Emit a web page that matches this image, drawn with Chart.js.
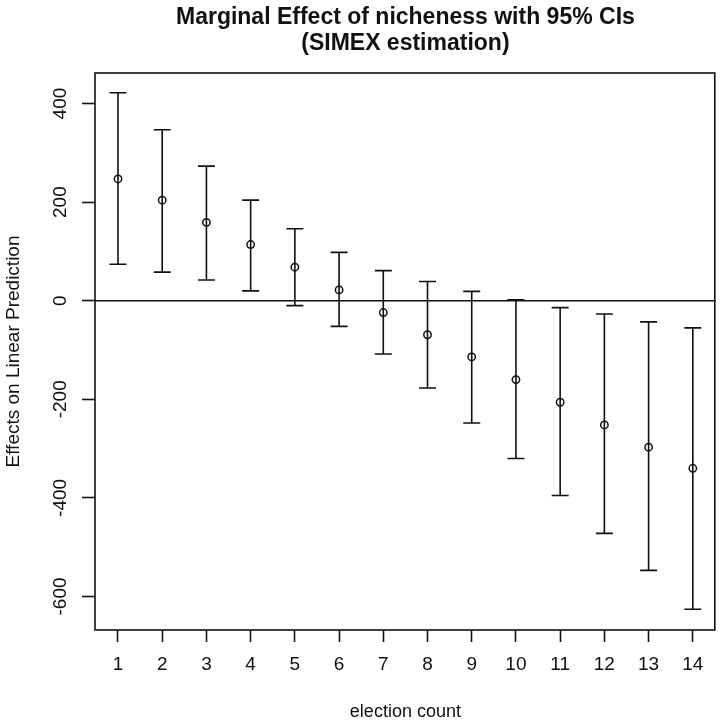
<!DOCTYPE html>
<html>
<head>
<meta charset="utf-8">
<title>Marginal Effect of nicheness</title>
<script src="https://cdn.jsdelivr.net/npm/chart.js@4.4.1/dist/chart.umd.min.js"></script>
<style>
  html, body { margin: 0; padding: 0; background: #fff; }
  canvas { display: block; }
</style>
</head>
<body>
<canvas id="chartEffect" width="721" height="726"></canvas>
<script>
// election count on the x axis
const electionCount = [1, 2, 3, 4, 5, 6, 7, 8, 9, 10, 11, 12, 13, 14];
// marginal effect of nicheness (SIMEX) and its 95% interval
const effect  = [247, 204, 159, 114, 68, 22, -24, -69, -114, -160, -206, -252, -297, -340];
const ciLower = [74, 58, 42, 20, -10, -52, -108, -177, -248, -320, -395, -472, -547, -626];
const ciUpper = [422, 347, 273, 204, 146, 98, 61, 39, 19, 2, -14, -27, -43, -55];
// tick labels
const xTicks = electionCount;
const yTicks = [-600, -400, -200, 0, 200, 400];

const FONT = '"Liberation Sans", Arial, sans-serif';
const INK = '#111';

// error bars, zero line and the box around the plot
const rPlot = {
    id: 'rPlot',
    beforeDatasetsDraw(chart) {
        const ctx = chart.ctx;
        const xs = chart.scales.x, ys = chart.scales.y;
        const area = chart.chartArea;
        ctx.save();
        ctx.strokeStyle = INK;
        ctx.lineWidth = 1.6;
        // horizontal reference at 0
        const y0 = ys.getPixelForValue(0);
        ctx.beginPath();
        ctx.moveTo(area.left, y0);
        ctx.lineTo(area.right, y0);
        ctx.stroke();
        // whiskers with caps
        electionCount.forEach(function(c, i) {
            const px = xs.getPixelForValue(c);
            const lo = ys.getPixelForValue(ciLower[i]);
            const hi = ys.getPixelForValue(ciUpper[i]);
            ctx.beginPath();
            ctx.moveTo(px, lo); ctx.lineTo(px, hi);
            ctx.moveTo(px - 8.5, lo); ctx.lineTo(px + 8.5, lo);
            ctx.moveTo(px - 8.5, hi); ctx.lineTo(px + 8.5, hi);
            ctx.stroke();
        });
        ctx.restore();
    },
    afterDraw(chart) {
        const ctx = chart.ctx;
        const area = chart.chartArea;
        const ys = chart.scales.y;
        ctx.save();
        ctx.strokeStyle = INK;
        ctx.lineWidth = 1.6;
        ctx.strokeRect(area.left, area.top, area.right - area.left - 1, area.bottom - area.top);
        // y tick labels, turned like R's las=0
        ctx.font = '19px ' + FONT;
        ctx.fillStyle = INK;
        ctx.textAlign = 'center';
        ctx.textBaseline = 'middle';
        ys.ticks.forEach(function(t) {
            ctx.save();
            ctx.translate(ys.right - 34, ys.getPixelForValue(t.value));
            ctx.rotate(-Math.PI / 2);
            ctx.fillText(String(t.value), 0, 0);
            ctx.restore();
        });
        ctx.restore();
    }
};

new Chart(document.getElementById('chartEffect'), {
    type: 'scatter',
    data: {
        datasets: [{
            label: 'effect',
            data: electionCount.map((c, i) => ({ x: c, y: effect[i] })),
            pointStyle: 'circle',
            pointRadius: 3.7,
            pointHoverRadius: 3.7,
            pointBorderWidth: 1.5,
            pointBorderColor: INK,
            pointBackgroundColor: 'rgba(0,0,0,0)'
        }]
    },
    options: {
        responsive: false,
        animation: false,
        layout: { padding: { top: 0, right: 0, bottom: 0, left: 0 } },
        plugins: {
            legend: { display: false },
            tooltip: { enabled: false },
            title: {
                display: true,
                fullSize: false,
                text: ['Marginal Effect of nicheness with 95% CIs', '(SIMEX estimation)'],
                color: INK,
                font: { family: FONT, size: 23, weight: 'bold', lineHeight: 26 / 23 },
                padding: { top: 5, bottom: 16 }
            }
        },
        scales: {
            x: {
                type: 'linear',
                min: 0.48,
                max: 14.52,
                afterBuildTicks: s => { s.ticks = xTicks.map(v => ({ value: v })); },
                afterFit: s => { s.height = 96; },
                border: { display: false },
                grid: {
                    display: true,
                    drawOnChartArea: false,
                    drawTicks: true,
                    tickLength: 12,
                    tickWidth: 1.6,
                    tickColor: INK
                },
                ticks: {
                    color: INK,
                    font: { family: FONT, size: 19 },
                    padding: 11,
                    maxRotation: 0,
                    autoSkip: false
                },
                title: {
                    display: true,
                    text: 'election count',
                    color: INK,
                    font: { family: FONT, size: 18 },
                    padding: { top: 0, bottom: 3 }
                }
            },
            y: {
                type: 'linear',
                min: -668,
                max: 462,
                afterBuildTicks: s => { s.ticks = yTicks.map(v => ({ value: v })); },
                afterFit: s => { s.width = 95; },
                border: { display: false },
                grid: {
                    display: true,
                    drawOnChartArea: false,
                    drawTicks: true,
                    tickLength: 13,
                    tickWidth: 1.6,
                    tickColor: INK
                },
                ticks: { display: false },
                title: {
                    display: true,
                    text: 'Effects on Linear Prediction',
                    color: INK,
                    font: { family: FONT, size: 19 },
                    padding: { top: 2, bottom: 0 }
                }
            }
        }
    },
    plugins: [rPlot]
});
</script>
</body>
</html>
